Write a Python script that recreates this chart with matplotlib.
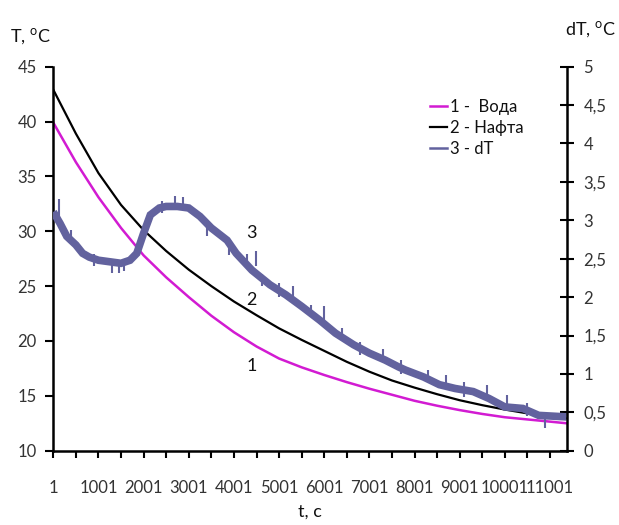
import matplotlib
matplotlib.use('Agg')
import matplotlib.pyplot as plt
from matplotlib.lines import Line2D
from matplotlib.ticker import FixedLocator, FixedFormatter

plt.rcParams['font.family'] = ['Lato', 'DejaVu Sans']

# ---- data ----
t_T = [1, 501, 1001, 1501, 2001, 2501, 3001, 3501, 4001, 4501, 5001, 5501,
       6001, 6501, 7001, 7501, 8001, 8501, 9001, 9501, 10001, 10501, 11001, 11370]
voda = [39.9, 36.3, 33.1, 30.3, 27.8, 25.8, 24.0, 22.3, 20.8, 19.5, 18.4, 17.6,
        16.9, 16.25, 15.65, 15.1, 14.55, 14.1, 13.7, 13.35, 13.05, 12.85, 12.65, 12.5]
nafta = [42.9, 38.9, 35.3, 32.4, 30.1, 28.2, 26.5, 25.0, 23.6, 22.35, 21.15, 20.1,
         19.1, 18.1, 17.2, 16.4, 15.75, 15.15, 14.6, 14.15, 13.75, 13.4, 13.1, 12.95]

t_dT = [1, 150, 300, 500, 650, 800, 1000, 1250, 1500, 1700, 1850, 2000, 2150,
        2350, 2500, 2750, 3000, 3250, 3500, 3850, 4050, 4400, 4800, 5150, 5500,
        5900, 6250, 6650, 7000, 7350, 7650, 7800, 8200, 8550, 8900, 9300, 9650,
        10000, 10400, 10750, 11370]
dT = [3.11, 2.96, 2.79, 2.68, 2.57, 2.52, 2.48, 2.46, 2.44, 2.48, 2.57, 2.83,
      3.07, 3.16, 3.18, 3.18, 3.16, 3.05, 2.90, 2.74, 2.57, 2.35, 2.16, 2.03,
      1.88, 1.70, 1.53, 1.38, 1.27, 1.18, 1.09, 1.05, 0.96, 0.86, 0.81, 0.77,
      0.68, 0.57, 0.55, 0.46, 0.44]

# noise spikes of dT: position, low end, high end
spike_t = [120, 400, 900, 1300, 1450, 1560, 2400, 2700, 2880, 3400, 3900, 4300,
           4480, 4620, 5000, 5300, 5700, 6000, 6400, 6800, 7300, 7700, 8300,
           8700, 9100, 9600, 10050, 10500, 10900]
spike_lo = [3.0, 2.70, 2.40, 2.32, 2.32, 2.34, 3.10, 3.15, 3.15, 2.80, 2.55, 2.40,
            2.40, 2.15, 2.00, 2.00, 1.75, 1.70, 1.45, 1.25, 1.15, 1.00, 0.90,
            0.85, 0.70, 0.68, 0.55, 0.45, 0.30]
spike_hi = [3.28, 2.88, 2.56, 2.46, 2.46, 2.46, 3.25, 3.32, 3.30, 2.98, 2.72, 2.56,
            2.60, 2.30, 2.18, 2.15, 1.90, 1.88, 1.60, 1.42, 1.32, 1.18, 1.05,
            0.98, 0.90, 0.85, 0.72, 0.62, 0.46]

x_ticks = list(range(1, 11371, 500))
x_labels = [str(v) if (v - 1) % 1000 == 0 else '' for v in x_ticks]
yl_ticks = [10, 15, 20, 25, 30, 35, 40, 45]
yr_ticks = [0, 0.5, 1, 1.5, 2, 2.5, 3, 3.5, 4, 4.5, 5]
yr_labels = ['0', '0,5', '1', '1,5', '2', '2,5', '3', '3,5', '4', '4,5', '5']

c_voda = '#d21bd2'
c_nafta = '#000000'
c_dT = '#62629e'
c_txt = '#333333'

fig = plt.figure(figsize=(6.19, 5.25), dpi=100)
ax = fig.add_axes([0.0861, 0.1415, 0.8294, 0.7315])

ax.plot(t_T, voda, color=c_voda, lw=1.8)
ax.plot(t_T, nafta, color=c_nafta, lw=1.6)
ax.set_xlim(1, 11370)
ax.set_ylim(10, 45)

ax2 = ax.twinx()
ax2.plot(t_dT, dT, color=c_dT, lw=5.5, solid_capstyle='butt', solid_joinstyle='miter')
ax2.vlines(spike_t, spike_lo, spike_hi, color=c_dT, lw=1.5)
ax2.set_ylim(0, 5)

ax.xaxis.set_major_locator(FixedLocator(x_ticks))
ax.xaxis.set_major_formatter(FixedFormatter(x_labels))
ax.set_yticks(yl_ticks)
ax2.yaxis.set_major_locator(FixedLocator(yr_ticks))
ax2.yaxis.set_major_formatter(FixedFormatter(yr_labels))

ax.tick_params(axis='x', direction='out', length=5, width=1.5, pad=16,
               labelsize=12, labelcolor=c_txt)
ax.tick_params(axis='y', direction='out', length=6, width=1.5, pad=6,
               labelsize=12, labelcolor=c_txt)
ax2.tick_params(axis='y', direction='inout', length=10, width=1.5, pad=7,
                labelsize=12, labelcolor=c_txt)

for a in (ax, ax2):
    a.spines['top'].set_visible(False)
    for s in a.spines.values():
        s.set_linewidth(1.8)
ax2.spines['left'].set_visible(False)
ax2.spines['bottom'].set_visible(False)
ax.spines['right'].set_visible(False)

ax.text(4386, 29.8, '3', ha='center', va='center', fontsize=13, color='#111111')
ax.text(4386, 23.7, '2', ha='center', va='center', fontsize=13, color='#111111')
ax.text(4386, 17.7, '1', ha='center', va='center', fontsize=13, color='#111111')

fig.text(10 / 619, 1 - 37 / 525, 'T, $^{\\mathregular{o}}$C', ha='left', va='center',
         fontsize=13, color='#111111')
fig.text(565 / 619, 1 - 30 / 525, 'dT, $^{\\mathregular{o}}$C', ha='left', va='center',
         fontsize=13, color='#111111')
fig.text(310 / 619, 1 - 512 / 525, 't, c', ha='center', va='center',
         fontsize=13, color='#111111')

handles = [Line2D([], [], color=c_voda, lw=1.8),
           Line2D([], [], color=c_nafta, lw=1.6),
           Line2D([], [], color=c_dT, lw=1.8)]
labels = ['1 -  Вода', '2 - Нафта', '3 - dT']
leg = ax2.legend(handles, labels, loc='upper left',
                 bbox_to_anchor=(430 / 619, 1 - 99 / 525),
                 bbox_transform=fig.transFigure, frameon=False,
                 fontsize=12, handlelength=1.0, handletextpad=0.2,
                 labelspacing=0.3, borderpad=0, borderaxespad=0)
for t in leg.get_texts():
    t.set_color('#111111')

fig.savefig('out.png', dpi=100)
